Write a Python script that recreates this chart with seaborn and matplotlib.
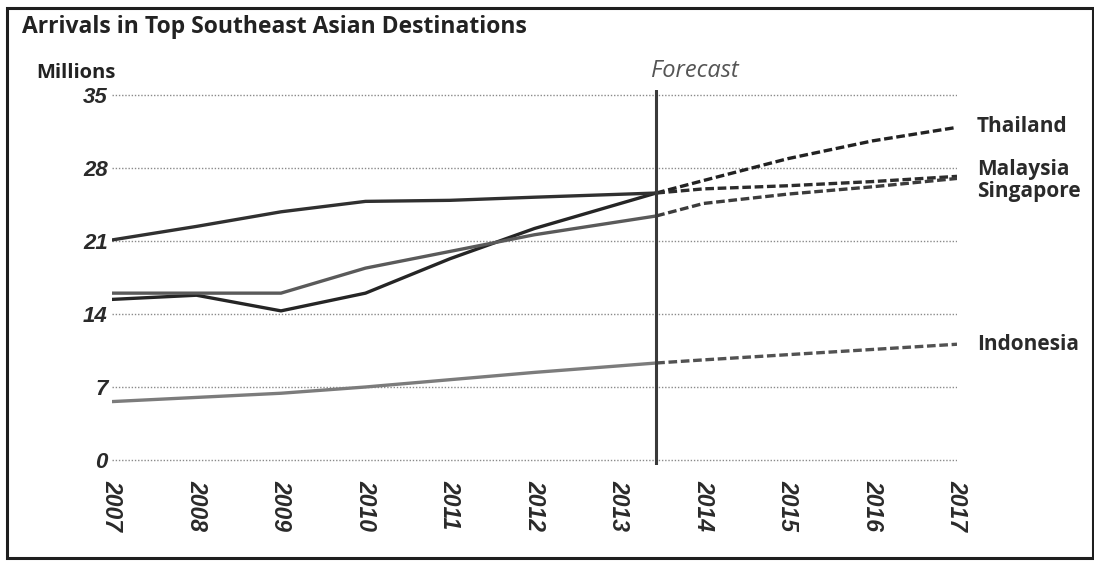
import matplotlib
matplotlib.use("Agg")
import matplotlib.pyplot as plt
import matplotlib.transforms as mtransforms
from matplotlib.patches import Rectangle
import pandas as pd
import seaborn as sns

# ---- chart data (millions of arrivals) ----
TITLE = "Arrivals in Top Southeast Asian Destinations"
UNIT_LABEL = "Millions"
FORECAST_LABEL = "Forecast"
COUNTRIES = ["Thailand", "Malaysia", "Singapore", "Indonesia"]

FORECAST_START = 2013.44          # position of the divider between actuals and forecast
HIST_YEARS = [2007, 2008, 2009, 2010, 2011, 2012, FORECAST_START]
FC_YEARS = [FORECAST_START, 2014, 2015, 2016, 2017]

thailand_hist = [15.4, 15.8, 14.3, 16.0, 19.3, 22.2, 25.6]
malaysia_hist = [21.1, 22.4, 23.8, 24.8, 24.9, 25.2, 25.6]
singapore_hist = [16.0, 16.0, 16.0, 18.4, 20.0, 21.6, 23.4]
indonesia_hist = [5.6, 6.0, 6.4, 7.0, 7.7, 8.4, 9.3]

thailand_fc = [25.6, 26.8, 28.9, 30.6, 31.9]
malaysia_fc = [25.6, 26.0, 26.3, 26.7, 27.2]
singapore_fc = [23.4, 24.6, 25.5, 26.2, 27.0]
indonesia_fc = [9.3, 9.6, 10.1, 10.6, 11.1]

YTICKS = [0, 7, 14, 21, 28, 35]
XTICKS = list(range(2007, 2018))
XTICK_LABELS = [str(y) for y in XTICKS]

HIST = dict(zip(COUNTRIES, [thailand_hist, malaysia_hist, singapore_hist, indonesia_hist]))
FC = dict(zip(COUNTRIES, [thailand_fc, malaysia_fc, singapore_fc, indonesia_fc]))

rows = []
for c in COUNTRIES:
    for yr, v in zip(HIST_YEARS, HIST[c]):
        rows.append({"country": c, "phase": "Actual", "year": yr, "value": v})
    for yr, v in zip(FC_YEARS, FC[c]):
        rows.append({"country": c, "phase": "Forecast", "year": yr, "value": v})
df = pd.DataFrame(rows)

# ---- styling ----
sns.set_theme(style="white")
plt.rcParams["font.family"] = ["Open Sans", "DejaVu Sans"]

SOLID_COLORS = {"Thailand": "#252525", "Malaysia": "#303030",
                "Singapore": "#5a5a5a", "Indonesia": "#7c7c7c"}
DASH_COLORS = {"Thailand": "#222222", "Malaysia": "#2c2c2c",
               "Singapore": "#3c3c3c", "Indonesia": "#525252"}
TEXT = "#222222"

W, H = 1094, 564
fig = plt.figure(figsize=(W / 100, H / 100), dpi=100)
fig.patch.set_facecolor("white")

# axes placed so that 2007..2017 and 0..35 land where the layout wants them
ax_left, ax_right = 112, 957
ax_top, ax_bottom = 89.8, 465.2
ax = fig.add_axes([ax_left / W, 1 - ax_bottom / H,
                   (ax_right - ax_left) / W, (ax_bottom - ax_top) / H])

for c in COUNTRIES:
    sub = df[(df.country == c) & (df.phase == "Actual")]
    sns.lineplot(data=sub, x="year", y="value", ax=ax, color=SOLID_COLORS[c],
                 linewidth=2.4, estimator=None, sort=False, zorder=4,
                 solid_capstyle="round")
    sub = df[(df.country == c) & (df.phase == "Forecast")]
    sns.lineplot(data=sub, x="year", y="value", ax=ax, color=DASH_COLORS[c],
                 linewidth=2.4, estimator=None, sort=False, zorder=4,
                 dashes=(2.6, 1.1))

ax.axvline(FORECAST_START, color="#3a3a3a", lw=2.2, zorder=5)

ax.set_xlim(2007, 2017)
ax.set_ylim(-0.5, 35.5)
ax.set_yticks(YTICKS)
ax.set_xticks(XTICKS)
ax.set_xticklabels(XTICK_LABELS)
ax.grid(axis="y", color="#8a8a8a", lw=1.0, ls=(0, (1, 1.3)), zorder=0)
ax.grid(axis="x", visible=False)
for s in ax.spines.values():
    s.set_visible(False)
ax.set_xlabel("")
ax.set_ylabel("")
ax.tick_params(axis="both", length=0)
ax.tick_params(axis="y", pad=3)
ax.tick_params(axis="x", pad=11)
for lab in ax.get_yticklabels():
    lab.set_fontfamily("Liberation Sans")
    lab.set_fontstyle("italic")
    lab.set_fontweight("bold")
    lab.set_fontsize(16)
    lab.set_color("#2a2a2a")
for lab in ax.get_xticklabels():
    lab.set_fontfamily("Liberation Sans")
    lab.set_fontstyle("italic")
    lab.set_fontweight("bold")
    lab.set_fontsize(16.5)
    lab.set_color("#2a2a2a")
    lab.set_rotation(-90)
    lab.set_va("top")
    lab.set_ha("center")

# series names at the right end of the lines
label_y = {"Thailand": 31.5, "Malaysia": 27.3, "Singapore": 25.2, "Indonesia": 10.55}
blend = mtransforms.blended_transform_factory(ax.transAxes, ax.transData)
for c in COUNTRIES:
    ax.text(1.0237, label_y[c], c, transform=blend, ha="left", va="baseline",
            fontsize=15, fontweight="bold", color="#2a2a2a", clip_on=False)

ax.text(FORECAST_START - 0.06, 36.7, FORECAST_LABEL, ha="left", va="baseline",
        fontsize=17, fontstyle="italic", color="#555555", clip_on=False)

fig.text(22 / W, 1 - 33 / H, TITLE, ha="left", va="baseline",
         fontsize=16.5, fontweight="bold", color=TEXT)
fig.text(36 / W, 1 - 78 / H, UNIT_LABEL, ha="left", va="baseline",
         fontsize=14.5, fontweight="bold", color=TEXT)

# frame around the whole graphic
fig.add_artist(Rectangle((7 / W, 1 - 558 / H), (1093 - 7) / W, (558 - 8) / H,
                         transform=fig.transFigure, fill=False, lw=2.2,
                         ec="#1e1e1e"))

fig.savefig("out.png", dpi=100, facecolor="white")
